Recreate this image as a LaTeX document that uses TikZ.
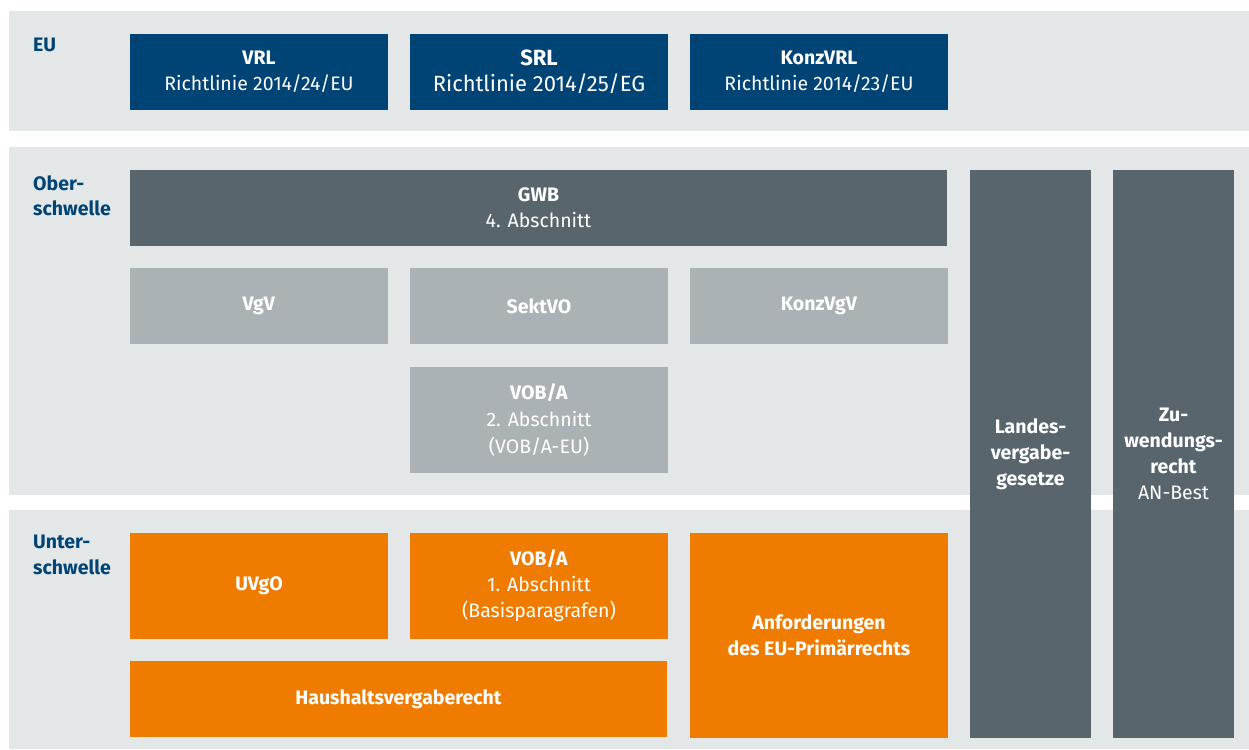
\documentclass[tikz,border=0pt]{standalone}
\usepackage{fontspec}
\setmainfont{Fira Sans}
\definecolor{bandbg}{HTML}{E3E7E8}
\definecolor{eublue}{HTML}{004375}
\definecolor{slate}{HTML}{58656C}
\definecolor{lightslate}{HTML}{ABB2B5}
\definecolor{lawsorange}{HTML}{EF7C00}
\begin{document}
\begin{tikzpicture}[x=1pt,y=-1pt,
  box/.style 2 args={rectangle, inner sep=0pt, minimum width=#1pt, minimum height=#2pt,
    text=white, align=center, font=\fontsize{19.5}{26}\selectfont},
  bluebox/.style={box={258}{76}, fill=eublue},
  slatebox/.style={fill=slate},
  greybox/.style={fill=lightslate},
  orangebox/.style={fill=lawsorange},
  rowlabel/.style={anchor=north west, inner sep=0pt, align=left, text=eublue,
    font=\fontsize{19.5}{25.5}\selectfont\bfseries}
]
\useasboundingbox (0,0) rectangle (1249,749);

% background bands
\fill[bandbg] (9,11) rectangle (1249,131);
\fill[bandbg] (9,147) rectangle (1249,495);
\fill[bandbg] (9,510) rectangle (1249,749);

% row labels
\node[rowlabel] (lEU) at (33,38) {EU};
\node[rowlabel] (lOber) at (33,175) {Ober-\\schwelle};
\node[rowlabel] (lUnter) at (33,535) {Unter-\\schwelle};

% EU directives
\node[bluebox] (vrl) at (259,72) {\textbf{VRL}\\Richtlinie 2014/24/EU};
\node[bluebox, font=\fontsize{22}{25.5}\selectfont] (srl) at (539,72) {\textbf{SRL}\\Richtlinie 2014/25/EG};
\node[bluebox] (konzvrl) at (819,72) {\textbf{KonzVRL}\\Richtlinie 2014/23/EU};

% Oberschwelle
\node[box={817}{76}, slatebox] (gwb) at (538.5,208) {\textbf{GWB}\\4. Abschnitt};
\node[box={258}{76}, greybox] (vgv) at (259,306) {\textbf{VgV}};
\node[box={258}{76}, greybox] (sektvo) at (539,306) {\textbf{SektVO}};
\node[box={258}{76}, greybox] (konzvgv) at (819,306) {\textbf{KonzVgV}};
\node[box={258}{106}, greybox, font=\fontsize{19.5}{27}\selectfont] (voba2) at (539,420) {\textbf{VOB/A}\\2. Abschnitt\\(VOB/A-EU)};

% columns spanning both thresholds
\node[box={121}{568}, slatebox] (landes) at (1030.5,454) {\textbf{Landes-}\\\textbf{vergabe-}\\\textbf{gesetze}};
\node[box={121}{568}, slatebox] (zuw) at (1173.5,454) {\textbf{Zu-}\\\textbf{wendungs-}\\\textbf{recht}\\AN-Best};

% Unterschwelle
\node[box={258}{106}, orangebox] (uvgo) at (259,586) {\textbf{UVgO}};
\node[box={258}{106}, orangebox] (voba1) at (539,586) {\textbf{VOB/A}\\1. Abschnitt\\(Basisparagrafen)};
\node[box={258}{205}, orangebox] (primaer) at (819,635.5) {\textbf{Anforderungen}\\\textbf{des EU-Primärrechts}};
\node[box={537}{76}, orangebox] (haushalt) at (398.5,699) {\textbf{Haushaltsvergaberecht}};
\end{tikzpicture}
\end{document}
